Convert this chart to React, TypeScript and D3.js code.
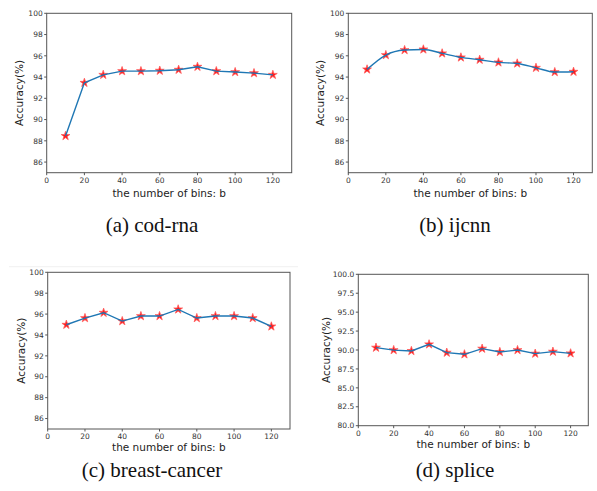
import React from 'react';
import * as d3 from 'd3';

const bins = [10, 20, 30, 40, 50, 60, 70, 80, 90, 100, 110, 120];
const codRna = [88.46, 93.46, 94.21, 94.56, 94.56, 94.6, 94.69, 94.97, 94.56, 94.47, 94.37, 94.21];
const ijcnn = [94.72, 96.07, 96.54, 96.6, 96.23, 95.85, 95.63, 95.38, 95.28, 94.87, 94.47, 94.5];
const breastCancer = [94.98, 95.62, 96.13, 95.33, 95.81, 95.81, 96.45, 95.62, 95.81, 95.81, 95.62, 94.82];
const splice = [90.31, 89.99, 89.87, 90.75, 89.65, 89.43, 90.18, 89.74, 89.99, 89.52, 89.78, 89.56];

const xTicks = [0, 20, 40, 60, 80, 100, 120];
const yTicksA = [86, 88, 90, 92, 94, 96, 98, 100];
const yTicksD = [80, 82.5, 85, 87.5, 90, 92.5, 95, 97.5, 100];

const captions = ['(a) cod-rna', '(b) ijcnn', '(c) breast-cancer', '(d) splice'];

const SANS = 'DejaVu Sans, sans-serif';

type PanelProps = {
  values: number[];
  box: { left: number; right: number; top: number; bottom: number };
  yDomain: [number, number];
  yTicks: number[];
  fmt: (v: number) => string;
  ylabelX: number;
  xlabelY: number;
  smooth?: boolean;
};

const Panel = ({ values, box, yDomain, yTicks, fmt, ylabelX, xlabelY, smooth }: PanelProps) => {
  const x = d3.scaleLinear().domain([0, 130]).range([box.left, box.right]);
  const y = d3.scaleLinear().domain(yDomain).range([box.bottom, box.top]);
  const pts = bins.map((b, i) => [b, values[i]] as [number, number]);
  const line = d3.line<[number, number]>()
    .x(d => x(d[0]))
    .y(d => y(d[1]))
    .curve(smooth ? d3.curveMonotoneX : d3.curveLinear);
  const star = d3.symbol().type(d3.symbolStar).size(24)();
  const cx = (box.left + box.right) / 2;
  const cy = (box.top + box.bottom) / 2;
  return (
    <g>
      {/* markers under the line */}
      {pts.map((d, i) => (
        <path key={i} d={star || ''} transform={`translate(${x(d[0])},${y(d[1])})`}
          fill="#ff1a1a" stroke="#ff6060" strokeWidth={0.8} />
      ))}
      <path d={line(pts) || ''} fill="none" stroke="#1f77b4" strokeWidth={1.4} />
      <rect x={box.left} y={box.top} width={box.right - box.left} height={box.bottom - box.top}
        fill="none" stroke="#555" strokeWidth={1} />
      {xTicks.map(t => (
        <g key={t}>
          <line x1={x(t)} x2={x(t)} y1={box.bottom} y2={box.bottom + 2.5} stroke="#555" />
          <text x={x(t)} y={box.bottom + 10} textAnchor="middle" fontSize={7.5}
            fontFamily={SANS} fill="#333">{t}</text>
        </g>
      ))}
      {yTicks.map(t => (
        <g key={t}>
          <line x1={box.left - 2.5} x2={box.left} y1={y(t)} y2={y(t)} stroke="#555" />
          <text x={box.left - 4} y={y(t) + 2.7} textAnchor="end" fontSize={7.5}
            fontFamily={SANS} fill="#333">{fmt(t)}</text>
        </g>
      ))}
      <text x={cx} y={xlabelY} textAnchor="middle" fontSize={10.5} fontFamily={SANS}
        fill="#222">the number of bins: b</text>
      <text transform={`translate(${ylabelX},${cy}) rotate(-90)`} textAnchor="middle"
        fontSize={10.5} fontFamily={SANS} fill="#222">Accuracy(%)</text>
    </g>
  );
};

export default function App() {
  const fmtInt = d3.format('d');
  const fmtOne = d3.format('.1f');
  return (
    <svg width={597} height={491} style={{ position: 'absolute', left: 0, top: 0, background: '#fff' }}>
      <rect width={597} height={491} fill="#fff" />
      <line x1={9} x2={298} y1={266.7} y2={266.7} stroke="#f0f0f0" />
      <Panel values={codRna} box={{ left: 46.7, right: 291.7, top: 13.3, bottom: 172.7 }}
        yDomain={[85, 100]} yTicks={yTicksA} fmt={fmtInt} ylabelX={23} xlabelY={197} />
      <Panel values={ijcnn} box={{ left: 348.3, right: 592.3, top: 13.3, bottom: 172.7 }}
        yDomain={[85, 100]} yTicks={yTicksA} fmt={fmtInt} ylabelX={324} xlabelY={197} smooth />
      <Panel values={breastCancer} box={{ left: 47.7, right: 290, top: 272.3, bottom: 429 }}
        yDomain={[85, 100]} yTicks={yTicksA} fmt={fmtInt} ylabelX={24.5} xlabelY={451} />
      <Panel values={splice} box={{ left: 358.3, right: 588.3, top: 274.3, bottom: 425.7 }}
        yDomain={[80, 100]} yTicks={yTicksD} fmt={fmtOne} ylabelX={329.5} xlabelY={448} />
      {captions.map((c, i) => (
        <text key={c} x={i % 2 === 0 ? 152 : 455} y={i < 2 ? 232 : 477} textAnchor="middle"
          fontSize={21} fontFamily="Liberation Serif, serif" fill="#111">{c}</text>
      ))}
    </svg>
  );
}
